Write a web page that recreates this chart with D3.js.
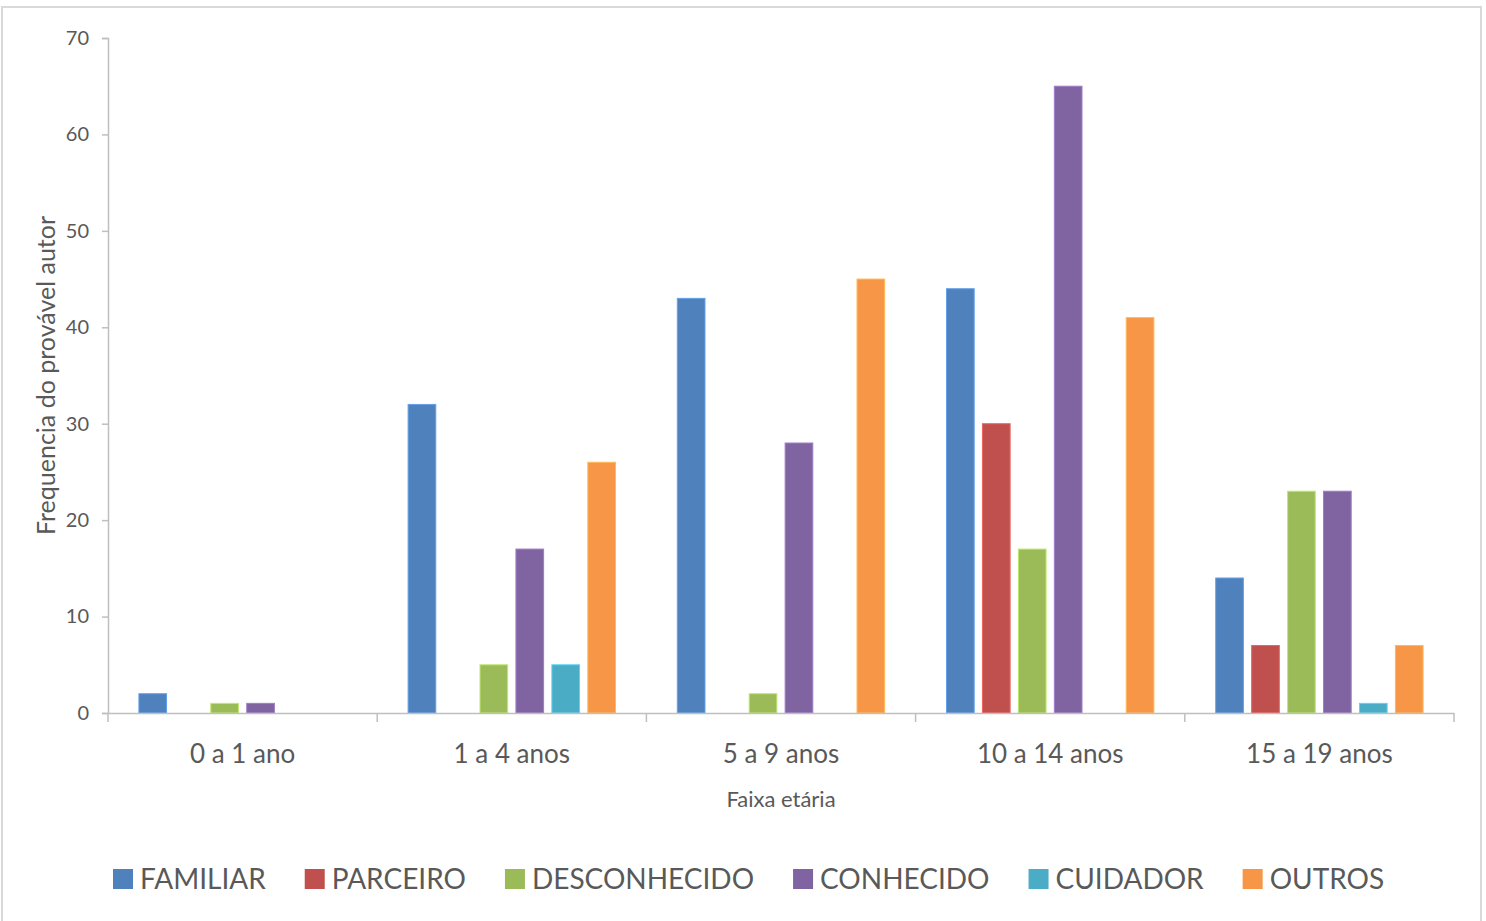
<!DOCTYPE html>
<html>
<head>
<meta charset="utf-8">
<script src="https://cdn.jsdelivr.net/npm/d3@7"></script>
<style>
  body { margin: 0; background: #fff; }
  text { font-family: Lato, "Open Sans", sans-serif; fill: #595959; }
</style>
</head>
<body>
<div id="chart"></div>
<script>
// age groups and author types
var categories = ["0 a 1 ano", "1 a 4 anos", "5 a 9 anos", "10 a 14 anos", "15 a 19 anos"]
var series = ["FAMILIAR", "PARCEIRO", "DESCONHECIDO", "CONHECIDO", "CUIDADOR", "OUTROS"]
var familiar = [2, 32, 43, 44, 14]
var parceiro = [0, 0, 0, 30, 7]
var desconhecido = [1, 5, 2, 17, 23]
var conhecido = [1, 17, 28, 65, 23]
var cuidador = [0, 5, 0, 0, 1]
var outros = [0, 26, 45, 41, 7]
var yTicks = [0, 10, 20, 30, 40, 50, 60, 70]
var colors = ["#4F81BD", "#C0504D", "#9BBB59", "#8064A2", "#4BACC6", "#F79646"]

var values = [familiar, parceiro, desconhecido, conhecido, cuidador, outros]

var width = 1486
var height = 921
var margin = {left: 108, right: 32, top: 38, bottom: 208}

var svg = d3.select("#chart")
    .append("svg")
    .attr("width", width)
    .attr("height", height)

// chart border
svg.append("rect")
    .attr("x", 2).attr("y", 7)
    .attr("width", 1479).attr("height", 930)
    .attr("fill", "none")
    .attr("stroke", "#D9D9D9")
    .attr("stroke-width", 2)

var x0 = d3.scaleBand()
    .domain(categories)
    .range([margin.left, width - margin.right])

var x1 = d3.scaleBand()
    .domain(series)
    .range([0, x0.bandwidth()])
    .paddingInner(0.23)
    .paddingOuter(0.86)

var y = d3.scaleLinear()
    .domain([0, 70])
    .range([height - margin.bottom, margin.top])

var color = d3.scaleOrdinal().domain(series).range(colors)

// y axis
var yAxis = svg.append("g")
    .attr("transform", "translate(" + margin.left + ",0)")
    .call(d3.axisLeft(y).tickValues(yTicks).tickSize(6).tickPadding(13))
yAxis.select(".domain").attr("stroke", "#BFBFBF").attr("stroke-width", 1.5)
yAxis.selectAll(".tick line").attr("stroke", "#BFBFBF").attr("stroke-width", 1.5)
yAxis.selectAll(".tick text")
    .style("font-size", "20px")
    .style("fill", "#595959")

// bars
var rows = categories.map(function(c, i) {
    return series.map(function(s, j) { return {cat: c, key: s, value: values[j][i]} })
})

svg.append("g")
    .selectAll("g")
    .data(rows)
    .join("g")
    .attr("transform", function(d, i) { return "translate(" + x0(categories[i]) + ",0)" })
    .selectAll("rect")
    .data(function(d) { return d.filter(function(e) { return e.value > 0 }) })
    .join("rect")
    .attr("x", function(d) { return x1(d.key) })
    .attr("y", function(d) { return y(d.value) })
    .attr("width", x1.bandwidth())
    .attr("height", function(d) { return y(0) - y(d.value) })
    .attr("fill", function(d) { return color(d.key) })
    .attr("stroke", function(d) { return d3.color(color(d.key)).brighter(0.6) })
    .attr("stroke-width", 1)

// x axis
var xAxis = svg.append("g")
    .attr("transform", "translate(0," + y(0) + ")")
    .call(d3.axisBottom(x0).tickSize(0).tickPadding(32))
xAxis.select(".domain").attr("stroke", "#BFBFBF").attr("stroke-width", 1.5)
xAxis.selectAll(".tick text")
    .style("font-size", "26px")
    .style("fill", "#595959")

// category separators
var bounds = categories.map(function(c) { return x0(c) }).concat([x0.range()[1]])
xAxis.selectAll(".sep")
    .data(bounds)
    .join("line")
    .attr("class", "sep")
    .attr("x1", function(d) { return d }).attr("x2", function(d) { return d })
    .attr("y1", 0).attr("y2", 9)
    .attr("stroke", "#BFBFBF")
    .attr("stroke-width", 1.5)

// axis titles
svg.append("text")
    .attr("x", (margin.left + width - margin.right) / 2)
    .attr("y", 807)
    .attr("text-anchor", "middle")
    .style("font-size", "22px")
    .text("Faixa etária")

svg.append("text")
    .attr("transform", "translate(55," + (margin.top + y(0)) / 2 + ") rotate(-90)")
    .attr("text-anchor", "middle")
    .style("font-size", "25px")
    .text("Frequencia do provável autor")

// legend
var size = 20
var legend = svg.append("g").attr("transform", "translate(113,869)")
var cursor = 0
series.forEach(function(s) {
    var item = legend.append("g").attr("transform", "translate(" + cursor + ",0)")
    item.append("rect")
        .attr("width", size).attr("height", size)
        .attr("fill", color(s))
    var t = item.append("text")
        .attr("x", size + 7)
        .attr("y", size / 2)
        .attr("dy", "0.36em")
        .style("font-size", "28px")
        .text(s)
    cursor += size + 7 + t.node().getComputedTextLength() + 39
})
</script>
</body>
</html>
